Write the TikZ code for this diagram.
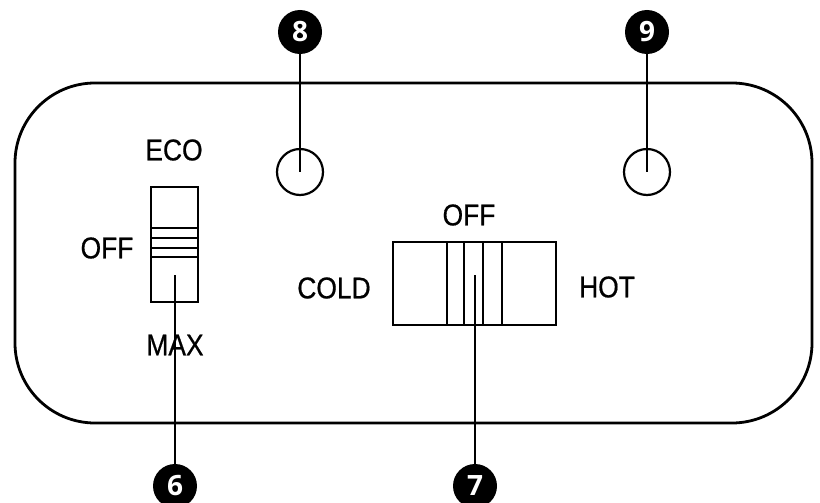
\documentclass[tikz,border=0pt]{standalone}
\usepackage{fontspec}
\setmainfont{Liberation Sans}
\newfontfamily\lblfont[FakeStretch=0.88,FakeBold=0.6]{Liberation Sans}
\newfontfamily\badgefont{Open Sans}
\begin{document}
\begin{tikzpicture}[x=1pt,y=-1pt,
  panel/.style={line width=2.8pt,rounded corners=80pt},
  part/.style={line width=2.2pt},
  lbl/.style={font=\lblfont\fontsize{30}{30}\selectfont,inner sep=0pt},
  badge/.style={circle,fill=black,minimum size=44pt,inner sep=0pt,text=white,font=\badgefont\bfseries\fontsize{28}{28}\selectfont},
  lamp/.style={circle,draw,line width=2.2pt,minimum size=46pt,inner sep=0pt},
  lead/.style={line width=2.2pt}]
\useasboundingbox (0,0) rectangle (820,503);
% panel
\draw[panel] (15,83) rectangle (812,423);
% eco switch
\draw[part] (151,187) rectangle (198,302);
\foreach \yy in {228,238,248,257} \draw[part] (151,\yy) -- (198,\yy);
\coordinate (p6) at (175,275);
% temperature switch
\draw[part] (393,242) rectangle (556,325);
\foreach \xx in {447,464,483,502} \draw[part] (\xx,242) -- (\xx,325);
\coordinate (p7) at (475,275);
% lamps
\node[lamp] (l8) at (300,172) {};
\node[lamp] (l9) at (647,172) {};
% labels
\node[lbl] (eco) at (174,150) {ECO};
\node[lbl] (off1) at (107,248) {OFF};
\node[lbl] (max) at (175,345) {MAX};
\node[lbl] (off2) at (469,215) {OFF};
\node[lbl] (cold) at (334,288) {COLD};
\node[lbl] (hot) at (607,287) {HOT};
% badges
\node[badge] (b8) at (300,32) {8};
\node[badge] (b9) at (647,32) {9};
\node[badge] (b6) at (175,486) {6};
\node[badge] (b7) at (475,486) {7};
% leaders
\draw[lead] (b8) -- (l8.center);
\draw[lead] (b9) -- (l9.center);
\draw[lead] (p6) -- (b6);
\draw[lead] (p7) -- (b7);
\end{tikzpicture}
\end{document}
